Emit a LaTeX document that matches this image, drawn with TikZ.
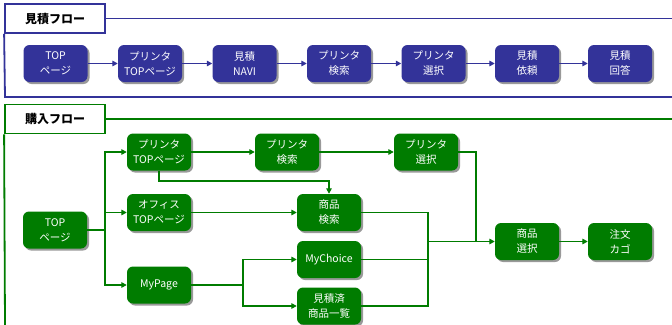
\documentclass[tikz,border=0pt]{standalone}
\usepackage{fontspec}
\newfontfamily\jpfont{Noto Sans CJK JP}
\usepackage{tikz}
\usetikzlibrary{positioning,calc,arrows.meta,shadows}

\begin{document}
\begin{tikzpicture}[x=1pt,y=-1pt]
	\definecolor{estblue}{RGB}{51,51,153}
	\definecolor{buygreen}{RGB}{0,124,0}
	\tikzset{
		flowbox/.style={
			rounded corners=6pt, minimum width=64pt, minimum height=37pt,
			inner sep=0pt, align=center, text=white,
			font=\jpfont\fontsize{10.5}{15}\selectfont,
			drop shadow={shadow xshift=2pt, shadow yshift=-2pt, fill=black!40, opacity=1}
		},
		estbox/.style={flowbox, fill=estblue},
		buybox/.style={flowbox, fill=buygreen},
		ttlbox/.style={
			draw=#1, fill=white, line width=1.8pt,
			minimum width=100pt, minimum height=29pt, inner sep=0pt,
			font=\jpfont\bfseries\fontsize{12}{14}\selectfont
		},
		estline/.style={draw=estblue, line width=1.8pt},
		buyline/.style={draw=buygreen, line width=1.8pt},
		estarr/.style={estline, -{Triangle[length=5.5pt,width=5.5pt]}},
		buyarr/.style={buyline, -{Triangle[length=5.5pt,width=5.5pt]}}
	}
	\useasboundingbox (0,0) rectangle (672,324);

	% ======= 見積フロー =======
	\node[ttlbox=estblue] (m0) at (55,18.5) {見積フロー};
	\draw[estline] (m0.east) -- (673,18.5);
	\draw[estline] (m0.south west) -- (5,97) -- (673,97);

	\node[estbox] (m1) at ( 55.5,63.5) {TOP\\ページ};
	\node[estbox] (m2) at (150.0,63.5) {プリンタ\\TOPページ};
	\node[estbox] (m3) at (244.5,63.5) {見積\\NAVI};
	\node[estbox] (m4) at (339.0,63.5) {プリンタ\\検索};
	\node[estbox] (m5) at (433.5,63.5) {プリンタ\\選択};
	\node[estbox] (m6) at (527.0,63.5) {見積\\依頼};
	\node[estbox] (m7) at (620.0,63.5) {見積\\回答};

	\draw[estarr] (m1) -- (m2);
	\draw[estarr] (m2) -- (m3);
	\draw[estarr] (m3) -- (m4);
	\draw[estarr] (m4) -- (m5);
	\draw[estarr] (m5) -- (m6);
	\draw[estarr] (m6) -- (m7);

	% ======= 購入フロー =======
	\node[ttlbox=buygreen] (k0) at (55,119) {購入フロー};
	\draw[buyline] (k0.east) -- (673,119);
	\draw[buyline] (k0.south west) -- (5,326);

	\node[buybox] (k1)  at ( 55,230)   {TOP\\ページ};
	\node[buybox] (k2)  at (159,152)   {プリンタ\\TOPページ};
	\node[buybox] (k3)  at (287,152)   {プリンタ\\検索};
	\node[buybox] (k4)  at (426,152)   {プリンタ\\選択};
	\node[buybox] (k5)  at (159,212.5) {オフィス\\TOPページ};
	\node[buybox] (k6)  at (159,285)   {MyPage};
	\node[buybox] (k7)  at (329,212.5) {商品\\検索};
	\node[buybox] (k8)  at (329,259.5) {MyChoice};
	\node[buybox] (k9)  at (329,306)   {見積済\\商品一覧};
	\node[buybox] (k10) at (527,241.5) {商品\\選択};
	\node[buybox] (k11) at (620,241.5) {注文\\カゴ};

	\coordinate (j1) at (105,230);
	\coordinate (j3) at (243,285);
	\coordinate (j4) at (428,241.5);
	\coordinate (j5) at (476,241.5);

	\draw[buyline] (k1.east) -- (j1);
	\draw[buyarr] (j1) |- (k2.west);
	\draw[buyarr] (j1) |- (k5.west);
	\draw[buyarr] (j1) |- (k6.west);

	\draw[buyarr] (k2) -- (k3);
	\draw[buyarr] (k3) -- (k4);
	\draw[buyarr] (k2.south) -- ++(0,10) -| (k7.north);
	\draw[buyarr] (k5) -- (k7);

	\draw[buyline] (k6.east) -- (j3);
	\draw[buyarr] (j3) |- (k8.west);
	\draw[buyarr] (j3) |- (k9.west);

	\draw[buyline] (k7.east) -| (j4);
	\draw[buyline] (k8.east) -| (j4);
	\draw[buyline] (k9.east) -| (j4);
	\draw[buyline] (k4.east) -| (j5);
	\draw[buyarr] (j4) -- (k10);
	\draw[buyarr] (k10) -- (k11);

\end{tikzpicture}
\end{document}
